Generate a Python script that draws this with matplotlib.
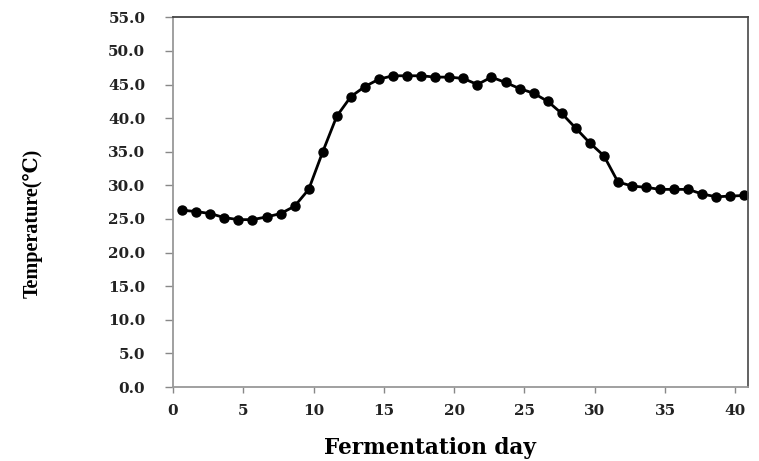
import matplotlib
matplotlib.use("Agg")
import matplotlib.pyplot as plt
from matplotlib.font_manager import FontProperties

# fermentation day positions and measured temperature
days = [0.65, 1.65, 2.65, 3.65, 4.65, 5.65, 6.65, 7.65, 8.65, 9.65,
        10.65, 11.65, 12.65, 13.65, 14.65, 15.65, 16.65, 17.65, 18.65, 19.65,
        20.65, 21.65, 22.65, 23.65, 24.65, 25.65, 26.65, 27.65, 28.65, 29.65,
        30.65, 31.65, 32.65, 33.65, 34.65, 35.65, 36.65, 37.65, 38.65, 39.65,
        40.65]
temp = [26.3, 26.1, 25.8, 25.2, 24.9, 24.9, 25.3, 25.8, 26.9, 29.4,
        35.0, 40.3, 43.2, 44.7, 45.8, 46.3, 46.3, 46.3, 46.1, 46.1,
        45.9, 45.0, 46.1, 45.3, 44.4, 43.7, 42.5, 40.7, 38.5, 36.3,
        34.4, 30.5, 29.9, 29.7, 29.4, 29.4, 29.4, 28.7, 28.3, 28.4,
        28.5]
xticks = [0, 5, 10, 15, 20, 25, 30, 35, 40]
yticks = [0, 5, 10, 15, 20, 25, 30, 35, 40, 45, 50, 55]

fig = plt.figure(figsize=(7.59, 4.61), dpi=100)
ax = fig.add_axes([0.228, 0.1605, 0.7575, 0.802])

ax.plot(days, temp, color='black', lw=2, marker='o', markersize=6.5,
        markerfacecolor='black', markeredgecolor='black')

ax.set_xlim(0, 40.9)
ax.set_ylim(0, 55)
ax.set_xticks(xticks)
ax.set_yticks(yticks)
ax.set_yticklabels([f'{v:.1f}' for v in yticks])

tickfont = FontProperties(family='DejaVu Serif', weight='bold', size=11)
for lab in ax.get_xticklabels() + ax.get_yticklabels():
    lab.set_fontproperties(tickfont)
    lab.set_color('#222222')

ax.tick_params(axis='y', direction='out', length=6, width=1, color='#888888', pad=14)
ax.tick_params(axis='x', direction='out', length=4, width=1, color='#888888', pad=8)

ax.spines['left'].set_color('#999999')
ax.spines['bottom'].set_color('#999999')
ax.spines['top'].set_color('#444444')
ax.spines['right'].set_color('#555555')
for s in ax.spines.values():
    s.set_linewidth(1.3)

ax.text(-0.245, 0.442, 'Temperature(℃)', transform=ax.transAxes,
        family=['Liberation Serif', 'DejaVu Serif'],
        weight='bold', size=14.5, rotation=90, ha='center', va='center')
ax.text(0.4465, -0.181, 'Fermentation day', transform=ax.transAxes,
        family='DejaVu Serif', weight='bold', size=15.5, ha='center', va='baseline')

fig.savefig('out.png', dpi=100)
